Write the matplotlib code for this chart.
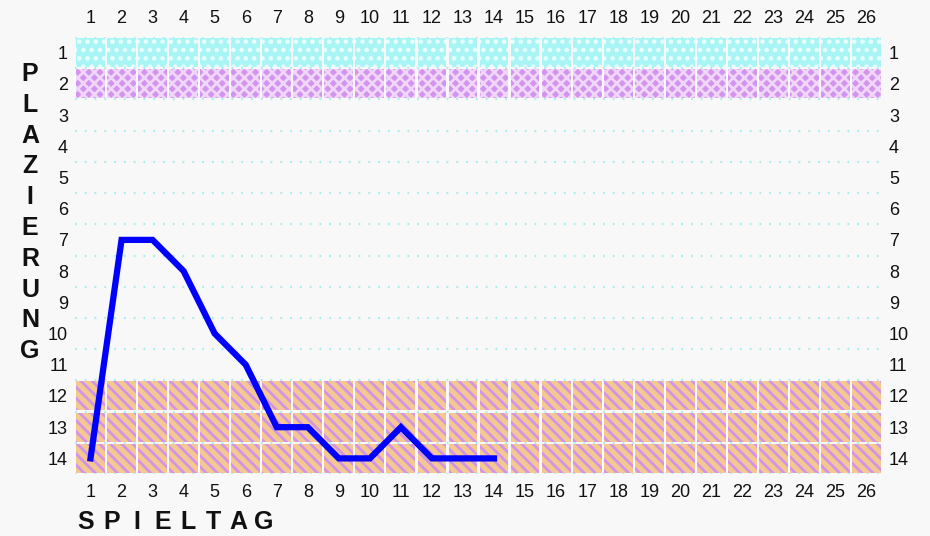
import matplotlib
matplotlib.use("Agg")
import matplotlib.pyplot as plt
from matplotlib.patches import Rectangle

plt.rcParams['font.family'] = ['Liberation Sans', 'DejaVu Sans']
plt.rcParams['hatch.linewidth'] = 2.0

# ---- data ----
matchdays = list(range(1, 15))
positions = [14, 7, 7, 8, 10, 11, 13, 13, 14, 14, 13, 14, 14, 14]
n_matchdays = 26
n_teams = 14
x_ticks = list(range(1, n_matchdays + 1))
y_ticks = list(range(1, n_teams + 1))
band_rows_top = [1]
band_rows_second = [2]
band_rows_bottom = [12, 13, 14]
ylabel_text = "PLAZIERUNG"
xlabel_text = "SPIELTAG"

bg = '#f8f8f8'
fig = plt.figure(figsize=(9.3, 5.36), dpi=100, facecolor=bg)
ax = fig.add_axes([75/930, 1-474/536, (882-75)/930, (474-37)/536])
ax.set_facecolor(bg)
ax.set_xlim(0.5, n_matchdays + 0.5)
ax.set_ylim(n_teams + 0.5, 0.5)

# dotted guide lines at row boundaries
for yb in [r + 0.5 for r in range(0, n_teams + 1)]:
    ax.axhline(yb, color='#a6eeee', lw=1.6, ls=(0, (0.8, 3.6)), zorder=1)

gap = 0.07
def cells(rows, fc, hatch, hc):
    for r in rows:
        for c in x_ticks:
            ax.add_patch(Rectangle((c - 0.5 + gap/2, r - 0.5 + gap/2), 1 - gap, 1 - gap,
                                   facecolor=fc, edgecolor=hc, hatch=hatch, lw=0, zorder=2))

cells(band_rows_top, '#a9f5f5', '..', '#e8ffff')
cells(band_rows_second, '#d294ee', 'xxx', '#f0d6f8')
cells(band_rows_bottom, '#f4c890', '\\\\\\', '#d294e6')

ax.plot(matchdays, positions, color='#0000ff', lw=4.5, solid_joinstyle='miter', zorder=5)

for s in ax.spines.values():
    s.set_visible(False)

ax.set_xticks(x_ticks)
ax.set_yticks(y_ticks)
ax.tick_params(axis='both', length=0, labelsize=13, colors='#111111')
ax.tick_params(axis='x', top=True, labeltop=True, bottom=True, labelbottom=True, pad=7)
ax.tick_params(axis='y', left=True, labelleft=True, right=True, labelright=True, pad=5)
ax.set_xticklabels([str(v) for v in x_ticks])
ax.set_yticklabels([str(v) for v in y_ticks])

# stacked y-label letters
for i, ch in enumerate(ylabel_text):
    y = 74 + i * 30.8
    fig.text(30/930, 1 - y/536, ch, ha='center', va='center', fontsize=18,
             fontweight='bold', color='#111111')

# spaced x-label letters
for i, ch in enumerate(xlabel_text):
    x = 86 + i * 25.4
    fig.text(x/930, 1 - 522/536, ch, ha='center', va='center', fontsize=18,
             fontweight='bold', color='#111111')

fig.savefig('out.png', dpi=100, facecolor=bg)
